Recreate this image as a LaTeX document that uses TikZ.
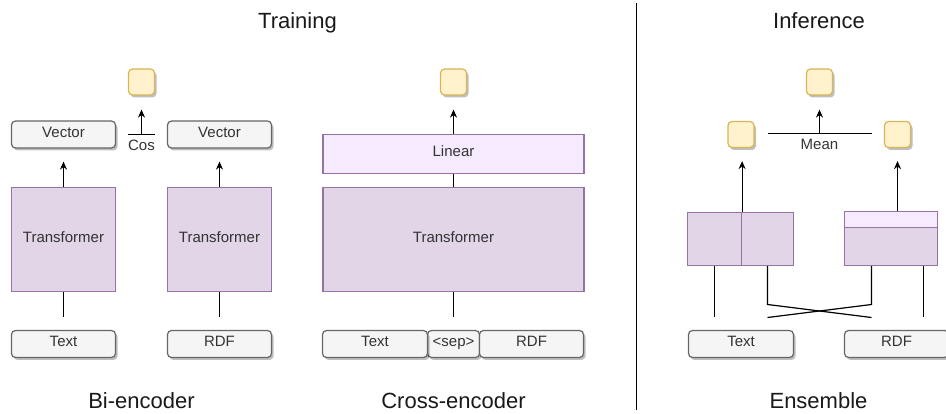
\documentclass[tikz,border=0pt]{standalone}
\usepackage{fontspec}
\setmainfont{Liberation Sans}
\usepackage{xcolor}
\usetikzlibrary{positioning}
\usetikzlibrary{arrows.meta,shadows}

\definecolor{boxgray}{HTML}{F5F5F5}
\definecolor{linegray}{HTML}{666666}
\definecolor{scfill}{HTML}{FFF2CC}
\definecolor{scline}{HTML}{D6B656}
\definecolor{trfill}{HTML}{E1D5E7}
\definecolor{trline}{HTML}{9673A6}
\definecolor{linfill}{HTML}{F6EAFE}
\definecolor{txtgray}{HTML}{333333}

\begin{document}
\begin{tikzpicture}[x=1pt,y=-1pt,on grid,line width=1.2pt,
   >={Stealth[length=8pt,width=7pt]},
   boxtext/.style={text=txtgray,font=\fontsize{15}{18}\selectfont,
     text height=10.7pt,text depth=5pt,inner sep=0pt},
   inp/.style={boxtext,draw=linegray,fill=boxgray,rounded corners=4pt,
     minimum height=27pt,minimum width=104pt,
     drop shadow={shadow xshift=2pt,shadow yshift=-2.5pt,opacity=0.25,fill=black}},
   score/.style={draw=scline,fill=scfill,rounded corners=4pt,minimum size=26pt,
     inner sep=0pt,
     drop shadow={shadow xshift=2pt,shadow yshift=-2.5pt,opacity=0.25,fill=black}},
   tf/.style={boxtext,draw=trline,fill=trfill},
   heading/.style={font=\fontsize{22}{26}\selectfont,anchor=base,text=black!90}]
   \useasboundingbox (-0.5,-0.5) rectangle (945.5,413.5);

   % titles
   \node[heading] (trn) at (297,28) {Training};
   \node[heading] (inf) at (818.5,28) {Inference};
   \node[heading] (bienc) at (141,408) {Bi-encoder};
   \node[heading] (crenc) at (453,408) {Cross-encoder};
   \node[heading] (ens) at (818,408) {Ensemble};
   \coordinate (divT) at (636,3);
   \coordinate (divB) at (636,409);
   \draw[line width=1.3pt] (divT) -- (divB);

   % bi-encoder
   \node[tf,minimum size=104pt] (trA) at (63,239) {Transformer};
   \node[tf,minimum size=104pt] (trB) [right=156pt of trA] {Transformer};
   \node[inp] (vecA) [above=105pt of trA] {Vector};
   \node[inp] (vecB) [above=105pt of trB] {Vector};
   \node[inp] (txtA) [below=104.5pt of trA] {Text};
   \node[inp] (rdfA) [below=104.5pt of trB] {RDF};
   \node[score] (scA) at (141,81.5) {};
   \coordinate (cos) at (141,134);
   \node[boxtext] (cosl) at (141,147) {Cos};
   \draw ([xshift=-14pt]cos) -- ([xshift=13pt]cos);
   \draw[->,shorten >=14pt] (cos) -- (scA);
   \draw[->,shorten >=13pt] (trA) -- (vecA);
   \draw[->,shorten >=13pt] (trB) -- (vecB);
   \draw[shorten >=13pt] (trA) -- (txtA);
   \draw[shorten >=13pt] (trB) -- (rdfA);

   % cross-encoder
   \node[tf,minimum width=261pt,minimum height=104pt] (trC) at (453,239) {Transformer};
   \node[tf,fill=linfill,minimum width=261pt,minimum height=39pt] (lin) [above=85.5pt of trC] {Linear};
   \node[score] (scB) [above=72pt of lin] {};
   \node[inp,minimum width=52pt] (sep) [below=104.5pt of trC] {<sep>};
   \node[inp,minimum width=105pt] (txtC) [left=78.5pt of sep] {Text};
   \node[inp] (rdfC) [right=78pt of sep] {RDF};
   \draw[->,shorten >=14pt] (lin) -- (scB);
   \draw (trC) -- (lin);
   \draw[shorten >=13pt] (trC) -- (sep);

   % ensemble
   \node[tf,minimum width=54pt,minimum height=53pt] (eL1) at (714,238.5) {};
   \node[tf,minimum width=52pt,minimum height=53pt] (eL2) [right=53pt of eL1] {};
   \node[tf,minimum width=93pt,minimum height=39pt] (eR2) at (890.5,245.5) {};
   \node[tf,fill=linfill,minimum width=93pt,minimum height=14pt] (eR1) [above=26.5pt of eR2] {};
   \node[inp,minimum width=105pt] (txtE) at (740.5,343.5) {Text};
   \node[inp] (rdfE) at (896,343.5) {RDF};
   \node[score] (yL) at (740.5,134) {};
   \node[score] (yR) at (897,134) {};
   \node[score] (scE) at (819,81.5) {};
   \coordinate (mean) at (819,133);
   \node[boxtext] (meanl) at (819,146) {Mean};
   \draw ([xshift=-52pt]mean) -- ([xshift=52pt]mean);
   \draw[->,shorten >=14pt] (mean) -- (scE);
   \draw[->,shorten >=13pt] (eL1.north east) -- (eL1.north east |- yL.south);
   \draw[->,shorten >=13pt] (yR.south |- eR1.north) -- (yR.south);
   \coordinate (kB) at (767,304);
   \coordinate (kC) at (871,304);
   \coordinate (fA) at (714,317);
   \coordinate (fB) at (767,317);
   \coordinate (fC) at (871,317);
   \coordinate (fD) at (923,317);
   \draw (eL1.south) -- (fA);
   \draw (eL2.south) -- (kB) -- (fC);
   \draw (eR2.south -| kC) -- (kC) -- (fB);
   \draw (eR2.south -| fD) -- (fD);
\end{tikzpicture}
\end{document}
